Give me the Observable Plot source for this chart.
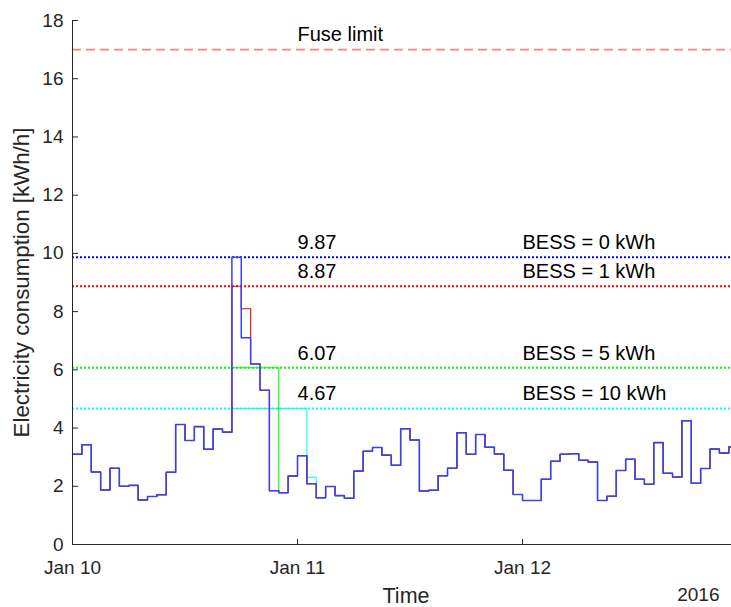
<!DOCTYPE html>
<html>
<head>
<meta charset="utf-8">
<script src="https://cdn.jsdelivr.net/npm/d3@7"></script>
<script src="https://cdn.jsdelivr.net/npm/@observablehq/plot@0.6"></script>
<style>
  html, body { margin: 0; padding: 0; background: #fff; }
  #chart svg { display: block; }
</style>
</head>
<body>
<div id="chart"></div>
<script>
// Hourly household load, 10–12 January 2016 (kWh/h), starting at midnight on Jan 10.
const consumption = [
  3.10, 3.43, 2.49, 1.87, 2.62, 2.00, 2.03, 1.53, 1.65, 1.71, 2.48, 4.12,
  3.57, 4.05, 3.27, 3.97, 3.86, 9.87, 7.10, 6.20, 5.30, 1.85, 1.78, 2.35,
  3.05, 2.09, 1.61, 1.99, 1.68, 1.59, 2.52, 3.20, 3.33, 3.07, 2.72, 3.98,
  3.59, 1.84, 1.86, 2.36, 2.62, 3.84, 3.10, 3.78, 3.34, 3.11, 2.55, 1.72,
  1.51, 1.51, 2.24, 2.86, 3.10, 3.12, 2.89, 2.83, 1.51, 1.66, 2.54, 2.93,
  2.24, 2.07, 3.50, 2.45, 2.32, 4.25, 2.10, 2.61, 3.28, 3.14, 3.35
];

// Battery sizes and the resulting peak grid load
const bessCapacities = [0, 1, 5, 10];
const peakLimits = [9.87, 8.87, 6.07, 4.67];
const fuseLimit = 17;

// Hours where each battery alters the load (peak shaving, then recharging)
const bess1Hours = [17, 18];
const bess1Load = [8.87, 8.10];
const bess5Hours = [17, 18, 19, 20, 21];
const bess5Load = [6.07, 6.07, 6.07, 6.07, 6.07];
const bess10Hours = [17, 18, 19, 20, 21, 22, 23, 24, 25];
const bess10Load = [4.67, 4.67, 4.67, 4.67, 4.67, 4.67, 4.67, 4.67, 2.31];

// Axis ticks
const yTicks = [0, 2, 4, 6, 8, 10, 12, 14, 16, 18];
const dayTicks = [new Date(Date.UTC(2016, 0, 10)), new Date(Date.UTC(2016, 0, 11)), new Date(Date.UTC(2016, 0, 12))];
const yearLabel = "2016";

const HOUR = 3600e3;
const start = dayTicks[0].getTime();

// Step profile for a battery size: base load with the altered hours replaced
function profile(hours, load) {
  const v = consumption.slice();
  hours.forEach((h, i) => { v[h] = load[i]; });
  const rows = v.map((value, i) => ({date: new Date(start + i * HOUR), value}));
  rows.push({date: new Date(start + v.length * HOUR), value: v[v.length - 1]});
  return rows;
}

const base = profile([], []);
const bess1 = profile(bess1Hours, bess1Load);
const bess5 = profile(bess5Hours, bess5Load);
const bess10 = profile(bess10Hours, bess10Load);

const limits = peakLimits.map((limit, i) => ({limit, bess: bessCapacities[i]}));

const seriesColors = ["#0000ff", "#ff0000", "#00ff00", "#00ffff"];
const ink = "#262626";

const W = 731, H = 607;
const mL = 72, mR = 0, mT = 20, mB = 63;
const plotW = W - mL - mR, plotH = H - mT - mB;
// visible window: 70.3 h from midnight on Jan 10
const xEnd = new Date(start + 70.29 * HOUR);

const chart = Plot.plot({
  width: W,
  height: H,
  marginLeft: mL,
  marginRight: mR,
  marginTop: mT,
  marginBottom: mB,
  style: {fontFamily: "'Liberation Sans', Arial, Helvetica, sans-serif", background: "#fff", overflow: "visible"},
  x: {type: "utc", domain: [dayTicks[0], xEnd], axis: null},
  y: {domain: [0, 18], axis: null},
  color: {type: "ordinal", domain: bessCapacities, range: seriesColors},
  marks: [
    // peak limits reached with each battery size
    Plot.ruleY(limits, {y: "limit", stroke: "bess", strokeWidth: 2, strokeDasharray: "2,2"}),
    // main fuse limit
    Plot.ruleY([fuseLimit], {stroke: "#ff8080", strokeWidth: 1.6, strokeDasharray: "9,5"}),

    // load profiles, largest battery drawn first so the base load sits on top
    Plot.line(bess10, {x: "date", y: "value", curve: "step-after", stroke: seriesColors[3], strokeWidth: 1.1, clip: true}),
    Plot.line(bess5, {x: "date", y: "value", curve: "step-after", stroke: seriesColors[2], strokeWidth: 1.1, clip: true}),
    Plot.line(bess1, {x: "date", y: "value", curve: "step-after", stroke: seriesColors[1], strokeWidth: 1.1, clip: true}),
    Plot.line(base, {x: "date", y: "value", curve: "step-after", stroke: "#3d3dff", strokeWidth: 1.5, clip: true}),

    // annotations
    Plot.text([fuseLimit], {x: () => dayTicks[1], y: d => d + 0.5, text: () => "Fuse limit", textAnchor: "start", fontSize: 20, fill: "#000"}),
    Plot.text(limits, {x: () => dayTicks[1], y: d => d.limit + 0.5, text: d => d.limit.toFixed(2), textAnchor: "start", fontSize: 20, fill: "#000"}),
    Plot.text(limits, {x: () => dayTicks[2], y: d => d.limit + 0.5, text: d => `BESS = ${d.bess} kWh`, textAnchor: "start", fontSize: 20, fill: "#000"}),

    // axes: lines, inward ticks, labels
    Plot.ruleX([dayTicks[0]], {stroke: ink, strokeWidth: 1}),
    Plot.ruleY([0], {stroke: ink, strokeWidth: 1}),
    Plot.ruleY(yTicks, {y: d => d, stroke: ink, strokeWidth: 1, insetRight: plotW - 6}),
    Plot.ruleX(dayTicks, {x: d => d, stroke: ink, strokeWidth: 1, insetTop: plotH - 5}),
    Plot.axisY({ticks: yTicks, tickSize: 0, tickPadding: 9, fontSize: 19, color: ink, label: null}),
    Plot.axisX({ticks: dayTicks, tickSize: 0, tickPadding: 16, fontSize: 19, color: ink, label: null,
      tickFormat: d3.utcFormat("%b %d")}),
    Plot.text(["Electricity consumption [kWh/h]"], {text: d => d, frameAnchor: "left", dx: -51, rotate: -90,
      fontSize: 22.3, fill: ink, textAnchor: "middle"}),
    Plot.text(["Time"], {text: d => d, frameAnchor: "bottom", dx: 4, dy: 58, fontSize: 21.5, fill: ink}),
    Plot.text([yearLabel], {text: d => d, frameAnchor: "bottom-right", dx: -12, dy: 56, fontSize: 19, fill: ink, textAnchor: "end"})
  ]
});

document.getElementById("chart").appendChild(chart);
</script>
</body>
</html>
